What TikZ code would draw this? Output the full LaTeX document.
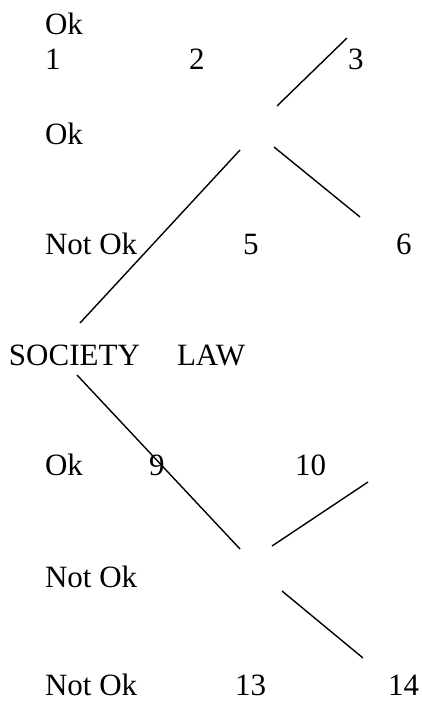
\documentclass[tikz,border=0pt]{standalone}
\usepackage{fontspec}
\setmainfont{Liberation Serif}
\begin{document}
\begin{tikzpicture}[x=1pt,y=-1pt,
  lbl/.style={anchor=base west,inner sep=0pt,outer sep=0pt,font=\fontsize{31}{36}\selectfont},
  branch/.style={line width=1.4pt,black}]
\useasboundingbox[fill=white] (0,0) rectangle (421,706);
% texts
\node[lbl] (ok1) at (45,35) {Ok};
\node[lbl] (n1) at (45,70) {1};
\node[lbl] (n2) at (189,70) {2};
\node[lbl] (n3) at (348,70) {3};
\node[lbl] (ok2) at (45,144) {Ok};
\node[lbl] (nok1) at (45,254) {Not Ok};
\node[lbl] (n5) at (243,254) {5};
\node[lbl] (n6) at (396,254) {6};
\node[lbl] (soc) at (9,365) {SOCIETY};
\node[lbl] (law) at (177,365) {LAW};
\node[lbl] (ok3) at (45,475) {Ok};
\node[lbl] (n9) at (149,475) {9};
\node[lbl] (n10) at (295,475) {10};
\node[lbl] (nok2) at (45,587) {Not Ok};
\node[lbl] (nok3) at (45,695) {Not Ok};
\node[lbl] (n13) at (235,695) {13};
\node[lbl] (n14) at (388,695) {14};
% line endpoints
\coordinate (a1) at (347,38);  \coordinate (a2) at (277,106);
\coordinate (b1) at (240,150); \coordinate (b2) at (80,323);
\coordinate (c1) at (274,147); \coordinate (c2) at (360,217);
\coordinate (d1) at (77,375);  \coordinate (d2) at (240,549);
\coordinate (e1) at (368,482); \coordinate (e2) at (272,546);
\coordinate (f1) at (282,591); \coordinate (f2) at (363,658);
\draw[branch] (a1) -- (a2);
\draw[branch] (b1) -- (b2);
\draw[branch] (c1) -- (c2);
\draw[branch] (d1) -- (d2);
\draw[branch] (e1) -- (e2);
\draw[branch] (f1) -- (f2);
\end{tikzpicture}
\end{document}
